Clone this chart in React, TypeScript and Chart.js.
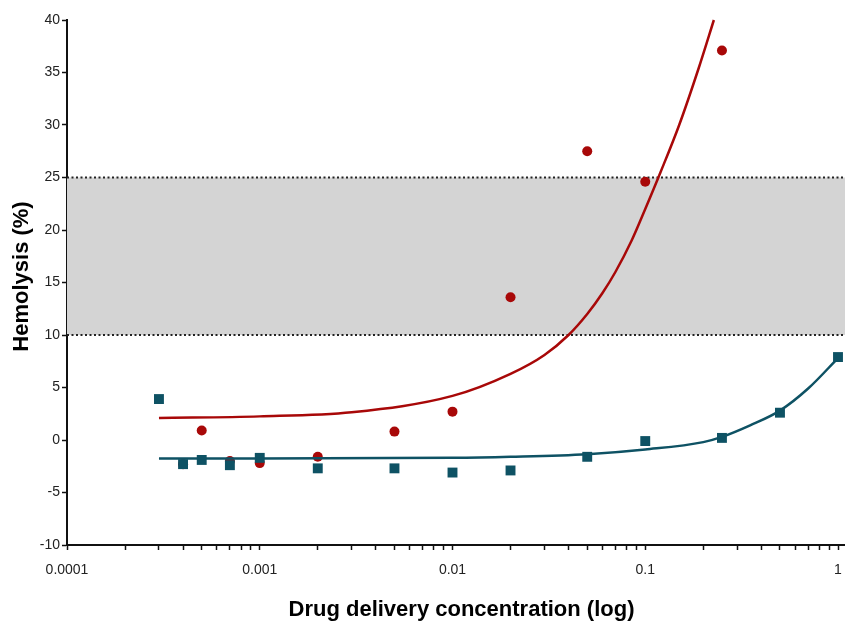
import { useEffect, useRef } from 'react';
import { Chart, registerables } from 'chart.js';
Chart.register(...registerables);

// Measured points
const RED_X = [0.0004, 0.0005, 0.0007, 0.001, 0.002, 0.005, 0.01, 0.02, 0.05, 0.1, 0.25];
const RED_Y = [-2.3, 0.9, -2.0, -2.2, -1.6, 0.8, 2.7, 13.6, 27.5, 24.6, 37.1];
const TEAL_X = [0.0003, 0.0004, 0.0005, 0.0007, 0.001, 0.002, 0.005, 0.01, 0.02, 0.05, 0.1, 0.25, 0.5, 1];
const TEAL_Y = [3.9, -2.3, -1.9, -2.4, -1.7, -2.7, -2.7, -3.1, -2.9, -1.6, -0.1, 0.2, 2.6, 7.9];

// Fitted curves
const RED_FIT_X = [0.0003, 0.001, 0.003, 0.01, 0.02, 0.03, 0.04, 0.05, 0.06, 0.07, 0.085, 0.1, 0.12, 0.15, 0.19, 0.227];
const RED_FIT_Y = [2.1, 2.25, 2.65, 4.2, 6.3, 8.1, 10.0, 12.0, 14.0, 16.0, 19.0, 22.0, 25.5, 30.0, 35.5, 40.0];
const TEAL_FIT_X = [0.0003, 0.001, 0.01, 0.02, 0.05, 0.1, 0.2, 0.25, 0.35, 0.5, 0.7, 1];
const TEAL_FIT_Y = [-1.75, -1.75, -1.7, -1.6, -1.35, -0.9, -0.2, 0.3, 1.4, 2.8, 4.9, 7.8];

// Axes
const Y_TICKS = [-10, -5, 0, 5, 10, 15, 20, 25, 30, 35, 40];
const X_DECADES = [0.0001, 0.001, 0.01, 0.1, 1];
const X_MINOR_MULT = [2, 3, 4, 5, 6, 7, 8, 9];
const BAND = [10, 25];
const X_TITLE = 'Drug delivery concentration (log)';
const Y_TITLE = 'Hemolysis (%)';

const RED = '#A80808';
const TEAL = '#0E5264';
const FONT = '"Liberation Sans", Arial, sans-serif';

const toPts = (xs: number[], ys: number[]) => xs.map((x, i) => ({ x, y: ys[i] }));

export default function App() {
  const ref = useRef<HTMLCanvasElement>(null);
  useEffect(() => {
    if (!ref.current) return;
    Chart.defaults.font.family = FONT;
    const xTicks: number[] = [];
    X_DECADES.forEach((d, i) => {
      xTicks.push(d);
      if (i < X_DECADES.length - 1) X_MINOR_MULT.forEach((m) => xTicks.push(+(d * m).toPrecision(3)));
    });

    const bandPlugin = {
      id: 'band',
      beforeDatasetsDraw(chart: any) {
        const { ctx, chartArea, scales } = chart;
        const y1 = scales.y.getPixelForValue(BAND[1]);
        const y0 = scales.y.getPixelForValue(BAND[0]);
        ctx.save();
        ctx.fillStyle = '#D4D4D4';
        ctx.fillRect(chartArea.left, y1, chart.width - chartArea.left, y0 - y1);
        ctx.strokeStyle = '#222';
        ctx.lineWidth = 2;
        ctx.setLineDash([2, 2.5]);
        [y0, y1].forEach((yy) => {
          ctx.beginPath();
          ctx.moveTo(chartArea.left, yy);
          ctx.lineTo(chart.width, yy);
          ctx.stroke();
        });
        ctx.restore();
      },
      afterDraw(chart: any) {
        const { ctx, chartArea } = chart;
        ctx.save();
        ctx.strokeStyle = '#111';
        ctx.lineWidth = 2;
        ctx.beginPath();
        ctx.moveTo(chartArea.right - 1, chartArea.bottom);
        ctx.lineTo(chart.width, chartArea.bottom);
        ctx.stroke();
        // axis titles
        ctx.fillStyle = '#000';
        ctx.font = `bold 22px ${FONT}`;
        ctx.textAlign = 'center';
        ctx.textBaseline = 'middle';
        ctx.fillText(X_TITLE, chartArea.left + (chartArea.right - chartArea.left) / 2 + 9, 610);
        ctx.translate(22, chartArea.top + (chartArea.bottom - chartArea.top) / 2 - 6);
        ctx.rotate(-Math.PI / 2);
        ctx.fillText(Y_TITLE, 0, 0);
        ctx.restore();
      },
    };

    const chart = new Chart(ref.current, {
      type: 'scatter',
      data: {
        datasets: [
          {
            data: toPts(TEAL_FIT_X, TEAL_FIT_Y),
            showLine: true,
            borderColor: TEAL,
            borderWidth: 2.5,
            pointRadius: 0,
            cubicInterpolationMode: 'monotone',
            clip: false,
            order: 1,
          } as any,
          {
            data: toPts(TEAL_X, TEAL_Y),
            showLine: false,
            pointStyle: 'rect',
            pointRadius: 7,
            backgroundColor: TEAL,
            borderColor: TEAL,
            borderWidth: 0,
            clip: false,
            order: 2,
          },
          {
            data: toPts(RED_FIT_X, RED_FIT_Y),
            showLine: true,
            borderColor: RED,
            borderWidth: 2.5,
            pointRadius: 0,
            cubicInterpolationMode: 'monotone',
            clip: false,
            order: 3,
          } as any,
          {
            data: toPts(RED_X, RED_Y),
            showLine: false,
            pointStyle: 'circle',
            pointRadius: 5,
            backgroundColor: RED,
            borderColor: RED,
            borderWidth: 0,
            clip: false,
            order: 4,
          },
        ],
      },
      options: {
        animation: false,
        responsive: false,
        layout: { padding: { top: 20, right: 7, left: 0, bottom: 0 } },
        plugins: { legend: { display: false }, tooltip: { enabled: false } },
        scales: {
          x: {
            type: 'logarithmic',
            min: 0.0001,
            max: 1,
            afterBuildTicks: (scale: any) => {
              scale.ticks = xTicks.map((v) => ({ value: v }));
            },
            afterFit: (scale: any) => {
              scale.height = 79;
              scale.paddingLeft = 0;
              scale.paddingRight = 0;
            },
            grid: { drawOnChartArea: false, drawTicks: true, tickLength: 5, tickColor: '#111', tickWidth: 1.5 },
            border: { display: true, color: '#111', width: 2 },
            ticks: {
              autoSkip: false,
              maxRotation: 0,
              minRotation: 0,
              padding: 12,
              color: '#222',
              font: { size: 14 },
              callback: (v: any) => (X_DECADES.includes(Number(v)) ? String(v) : ''),
            },
            title: { display: false },
          },
          y: {
            type: 'linear',
            min: -10,
            max: 40,
            afterBuildTicks: (scale: any) => {
              scale.ticks = Y_TICKS.map((v) => ({ value: v }));
            },
            afterFit: (scale: any) => {
              scale.width = 67;
              scale.paddingTop = 0;
              scale.paddingBottom = 0;
            },
            grid: { drawOnChartArea: false, drawTicks: true, tickLength: 5, tickColor: '#111', tickWidth: 1.5 },
            border: { display: true, color: '#111', width: 2 },
            ticks: { padding: 2, color: '#222', font: { size: 14 } },
            title: { display: false },
          },
        },
      },
      plugins: [bandPlugin],
    });
    return () => chart.destroy();
  }, []);

  return (
    <div style={{ position: 'fixed', left: 0, top: 0, width: 845, height: 624, background: '#fff' }}>
      <canvas ref={ref} width={845} height={624} />
    </div>
  );
}
